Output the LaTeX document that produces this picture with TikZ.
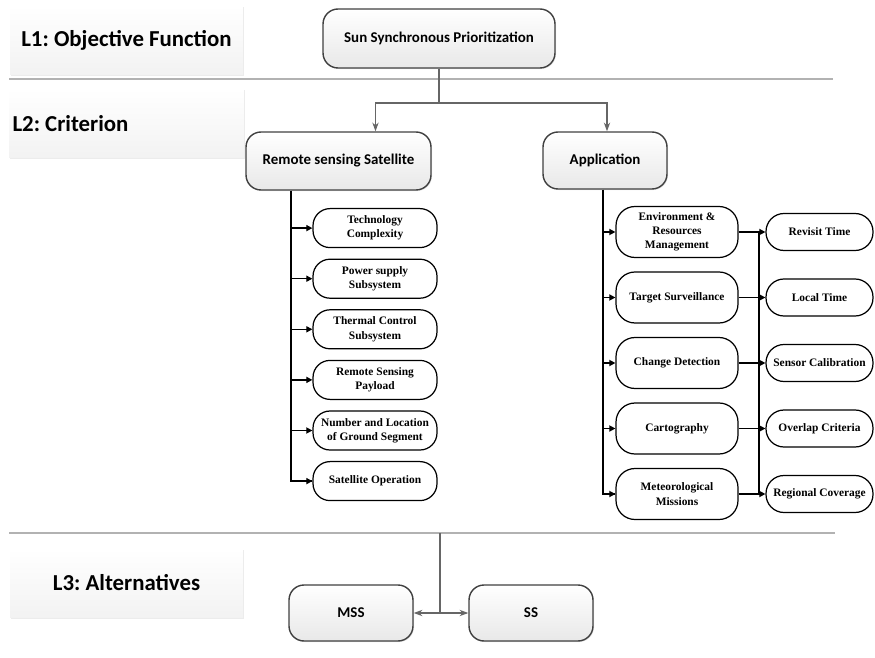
\documentclass[tikz,border=0pt]{standalone}
\usepackage{fontspec}
\setmainfont{Liberation Serif}
\newfontfamily\calibri{Carlito}
\usetikzlibrary{arrows.meta,shadows,positioning}
\frenchspacing

\begin{document}
\begin{tikzpicture}[x=0.02cm,y=-0.02cm,
    levelbox/.style={minimum width=4.66cm,minimum height=1.38cm,inner sep=2pt,
      top color=white,bottom color=gray!10,
      drop shadow={shadow xshift=0.8pt,shadow yshift=-0.8pt,opacity=0.15},
      font=\calibri\bfseries\fontsize{13}{15}\selectfont},
    mainbox/.style={draw=black!75,line width=0.8pt,rounded corners=0.3cm,
      top color=white,bottom color=gray!18,
      drop shadow={shadow xshift=0.6pt,shadow yshift=-0.6pt,opacity=0.2},
      font=\calibri\bfseries\fontsize{8.5}{10}\selectfont},
    subbox/.style={draw,line width=0.7pt,fill=white,align=center,inner sep=1pt,
      font=\bfseries\fontsize{6.5}{8.1}\selectfont},
    sepline/.style={gray!60,line width=0.9pt},
    grayarrow/.style={black!60,line width=0.6pt,-{Stealth[length=5pt,width=3.6pt]}},
    bus/.style={line width=1.1pt},
    branch/.style={line width=0.8pt,-{Triangle[length=3.5pt,width=3.5pt]}}]
  \useasboundingbox (0,0) rectangle (875,658);

  % levels
  \node[levelbox] (l1) at (126.5,40) {L1: Objective Function};
  \node[levelbox,text width=4.56cm,align=flush left] (l2) at (126.5,123.5) {L2: Criterion};
  \node[levelbox] (l3) at (126.5,583) {L3: Alternatives};
  \draw[sepline] (9,79) -- (833,79);
  \draw[sepline] (9,533) -- (835,533);

  % goal and criteria
  \node[mainbox,minimum width=4.64cm,minimum height=1.18cm] (goal) at (439,38.5)
    {Sun Synchronous Prioritization};
  \node[mainbox,minimum width=3.7cm,minimum height=1.16cm] (rs) at (338.5,161)
    {Remote sensing Satellite};
  \node[mainbox,minimum width=2.48cm,minimum height=1.14cm] (app) at (605,160.5)
    {Application};
  \coordinate (split) at (439,103);
  \draw[black!60,line width=0.6pt] (goal) -- (split);
  \draw[grayarrow] (split) -| ([xshift=0.74cm]rs.north);
  \draw[grayarrow] (split) -| ([xshift=0.04cm]app.north);

  % sub-criteria of the satellite
  \foreach \t [count=\i] in {{Technology\\Complexity},{Power supply\\Subsystem},
      {Thermal Control\\Subsystem},{Remote Sensing\\Payload},
      {Number and Location\\of Ground Segment},{Satellite Operation}}
    \node[subbox,rounded corners=0.34cm,minimum width=2.48cm,minimum height=0.78cm]
      (s\i) at (375,177.5+50.6*\i) {\t};
  \coordinate (rsbus) at ([xshift=0.92cm]rs.south west);
  \draw[bus] (rsbus) |- (s6.west);
  \foreach \i in {1,...,6}
    \draw[branch] (rsbus |- s\i.west) -- (s\i.west);

  % applications and their sub-criteria
  \foreach \t/\r [count=\i] in {{Environment \&\\Resources\\Management}/Revisit Time,
      Target Surveillance/Local Time,Change Detection/Sensor Calibration,
      Cartography/Overlap Criteria,{Meteorological\\Missions}/Regional Coverage}{
    \node[subbox,rounded corners=0.38cm,minimum width=2.44cm,minimum height=1.02cm]
      (m\i) at (677,166.5+65.5*\i) {\t};
    \node[subbox,rounded corners=0.36cm,minimum width=2.14cm,minimum height=0.74cm]
      (r\i) at (819.5,166.5+65.5*\i) {\r};
  }
  \coordinate (appbus) at ([xshift=1.22cm]app.south west);
  \coordinate (rbus) at ([xshift=0.4cm]m1.east);
  \draw[bus] (appbus) |- (m5.west);
  \draw[bus] (rbus) -- (rbus |- m5.east);
  \foreach \i in {1,...,5}{
    \draw[branch] (appbus |- m\i.west) -- (m\i.west);
    \draw[branch] (m\i.east) -- (r\i.west);
  }

  % alternatives
  \node[mainbox,minimum width=2.48cm,minimum height=1.12cm] (mss) at (351,613) {MSS};
  \node[mainbox,minimum width=2.48cm,minimum height=1.12cm] (ss) at (531,613) {SS};
  \coordinate (fork) at (440,533);
  \draw[grayarrow] (fork) |- (mss.east);
  \draw[grayarrow] (fork) |- (ss.west);
\end{tikzpicture}
\end{document}
